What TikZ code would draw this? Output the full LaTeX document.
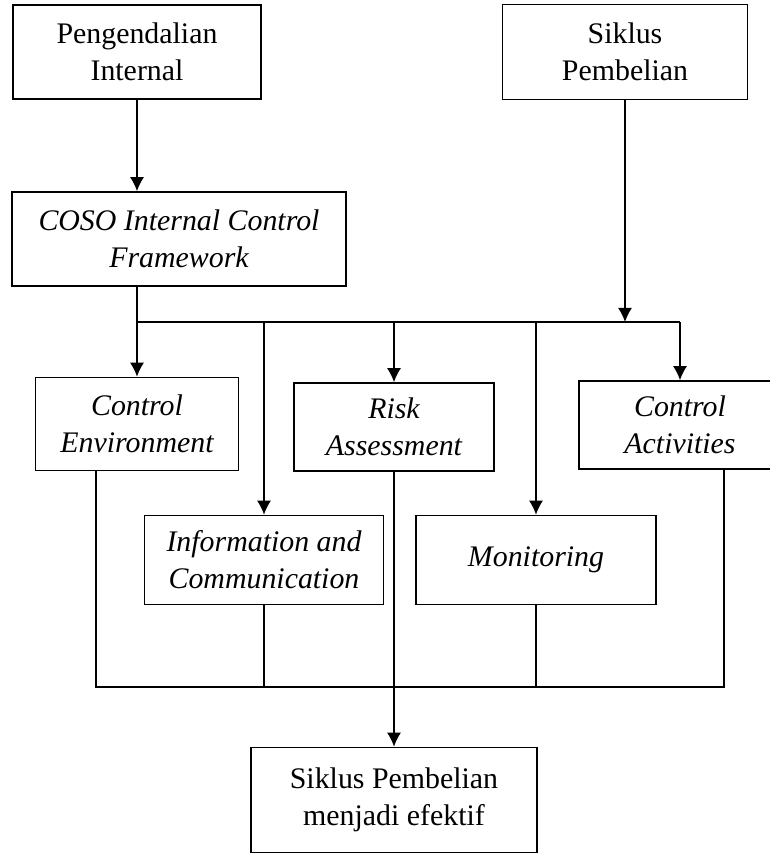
\documentclass[tikz,border=0pt]{standalone}
\usepackage{fontspec}
\setmainfont{Liberation Serif}
\usetikzlibrary{arrows.meta}
\tikzset{>={Latex[length=8pt,width=8pt]},
  box/.style={draw,line width=0.9pt,align=center,inner sep=0pt,
    font=\fontsize{17}{21}\selectfont},
  ibox/.style={box,font=\fontsize{17}{21}\selectfont\itshape}}
\def\feed#1{\draw[->] (#1.north |- bus) -- (#1.north);}
\def\drain#1{\draw (#1.south) -- (#1.south |- low);}

\begin{document}
\begin{tikzpicture}[x=0.02cm,y=-0.02cm,line width=0.9pt]
\useasboundingbox (0,0) rectangle (769,855);
\node[box,minimum width=4.96cm,minimum height=1.88cm] (pi) at (137,52) {Pengendalian\\Internal};
\node[box,minimum width=4.9cm,minimum height=1.9cm] (sp) at (625,52) {Siklus\\Pembelian};
\node[ibox,minimum width=6.68cm,minimum height=1.88cm] (coso) at (179,239) {COSO Internal Control\\Framework};
\node[ibox,minimum width=4.06cm,minimum height=1.86cm] (ce) at (137,424) {Control\\Environment};
\node[ibox,minimum width=4.0cm,minimum height=1.76cm] (ra) at (394,427) {Risk\\Assessment};
\node[ibox,minimum width=4.04cm,minimum height=1.76cm] (ca) at (680,425) {Control\\Activities};
\node[ibox,minimum width=4.78cm,minimum height=1.78cm] (ic) at (264,560) {Information and\\Communication};
\node[ibox,minimum width=4.8cm,minimum height=1.78cm] (mon) at (536,560) {Monitoring};
\node[box,minimum width=5.72cm,minimum height=2.1cm] (eff) at (394,800) {Siklus Pembelian\\menjadi efektif};
\coordinate (bus) at (137,322);
\coordinate (busr) at (680,322);
\coordinate (low) at (96,687);
\coordinate (lowr) at (724,687);
\draw[->] (pi) -- (coso.north -| pi);
\draw[->] (sp.south) -- (sp.south |- bus);
\draw (ce.north |- coso.south) -- (bus) -- (busr);
\feed{ce}
\feed{ic}
\feed{ra}
\feed{mon}
\feed{ca}
\draw (ce.south -| low) -- (low) -- (lowr) -- (ca.south -| lowr);
\drain{ic}
\drain{mon}
\draw[->] (ra.south) -- (eff.north);
\end{tikzpicture}
\end{document}
